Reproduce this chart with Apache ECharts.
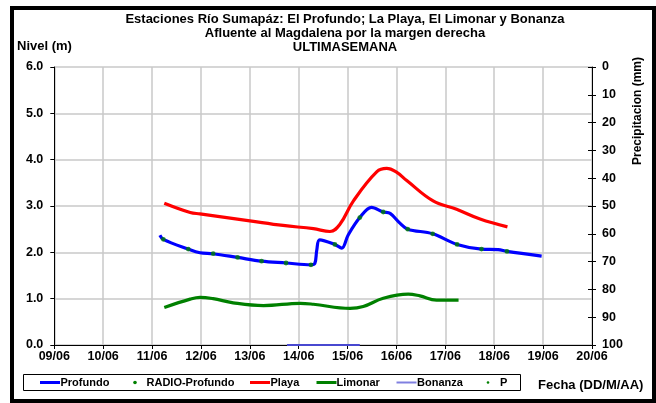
<!DOCTYPE html>
<html>
<head>
<meta charset="utf-8">
<script src="https://cdn.jsdelivr.net/npm/echarts@6/dist/echarts.min.js"></script>
<style>
html,body{margin:0;padding:0;background:#fff;}
#c{width:656px;height:403px;}
</style>
</head>
<body>
<div id="c"></div>
<script>
// x values are days counted from 09/06 00:00
const tickLabels = ['09/06','10/06','11/06','12/06','13/06','14/06','15/06','16/06','17/06','18/06','19/06','20/06'];

const profundo = [
  [2.16,2.37],[2.23,2.28],[2.74,2.07],[2.98,1.99],[3.25,1.97],[3.75,1.89],[4.24,1.81],
  [4.74,1.77],[5.25,1.73],[5.33,1.76],[5.37,2.05],[5.43,2.27],[5.74,2.17],[5.88,2.09],
  [6.01,2.37],[6.25,2.75],[6.49,2.97],[6.73,2.87],[6.87,2.84],[7.07,2.63],[7.23,2.50],
  [7.74,2.40],[8.24,2.17],[8.74,2.07],[9.08,2.06],[9.26,2.02],[9.97,1.92]
];
const radioProfundo = [
  [2.23,2.28],[2.74,2.07],[3.25,1.97],[3.75,1.89],[4.24,1.81],[4.74,1.77],[5.25,1.73],
  [5.74,2.17],[6.25,2.75],[6.73,2.87],[7.23,2.50],[7.74,2.40],[8.24,2.17],[8.74,2.07],[9.26,2.02]
];
const playa = [
  [2.25,3.06],[2.78,2.86],[2.98,2.83],[4.00,2.68],[4.68,2.58],[5.30,2.51],[5.64,2.45],
  [5.84,2.60],[6.12,3.11],[6.60,3.74],[6.80,3.81],[7.00,3.73],[7.21,3.55],[7.75,3.11],
  [8.23,2.93],[8.71,2.72],[9.27,2.55]
];
const limonar = [
  [2.25,0.81],[2.78,0.99],[2.98,1.03],[3.25,1.00],[3.66,0.91],[4.28,0.85],[5.03,0.90],
  [5.30,0.88],[6.05,0.79],[6.32,0.83],[6.73,1.01],[7.24,1.10],[7.48,1.06],[7.82,0.97],[8.27,0.97]
];
const bonanza = [[4.76,0.0],[6.25,0.0]];
const precip = [];

const FF = 'Liberation Sans, Arial';
const AX = {fontFamily:FF, fontWeight:'bold', fontSize:12.5, color:'#000'};
const LG = 'bold 11px ' + FF;

const chart = echarts.init(document.getElementById('c'), null, {renderer:'canvas'});

const legendItems = [];
function legLine(x1, color, w, label, tx) {
  legendItems.push({type:'line', z:60, shape:{x1:x1, y1:382.5, x2:x1+20, y2:382.5}, style:{stroke:color, lineWidth:w}});
  legendItems.push({type:'text', z:60, x:tx, y:382.5, style:{text:label, font:LG, fill:'#000', textVerticalAlign:'middle'}});
}
function legDot(cx, r, label, tx) {
  legendItems.push({type:'circle', z:60, shape:{cx:cx, cy:382.5, r:r}, style:{fill:'#008000'}});
  legendItems.push({type:'text', z:60, x:tx, y:382.5, style:{text:label, font:LG, fill:'#000', textVerticalAlign:'middle'}});
}
legLine(40, '#0000ff', 3, 'Profundo', 60.5);
legDot(135, 1.8, 'RADIO-Profundo', 146.5);
legLine(250, '#ff0000', 3, 'Playa', 270.5);
legLine(316.5, '#008000', 3, 'Limonar', 336.5);
legLine(396.5, '#8080e0', 2, 'Bonanza', 417);
legDot(488, 1.3, 'P', 500);

chart.setOption({
  backgroundColor:'#fff',
  animation:false,
  title:{
    text:'Estaciones Río Sumapáz: El Profundo; La Playa, El Limonar y Bonanza\nAfluente al Magdalena por la margen derecha\nULTIMASEMANA',
    left:340, top:7, textAlign:'center',
    textStyle:{fontFamily:FF, fontWeight:'bold', fontSize:13, color:'#000', lineHeight:14}
  },
  grid:{left:54.3, right:64, top:67, bottom:58},
  xAxis:{
    type:'value', min:0, max:11, interval:1,
    axisLine:{lineStyle:{color:'#000', width:1}},
    axisTick:{length:4, lineStyle:{color:'#000'}},
    axisLabel:Object.assign({}, AX, {margin:5, formatter:(v)=>tickLabels[Math.round(v)]}),
    splitLine:{show:true, lineStyle:{color:'#c8c8c8', width:1.5}}
  },
  yAxis:[
    {
      type:'value', min:0, max:6, interval:1, position:'left',
      axisLine:{show:true, lineStyle:{color:'#000', width:1}},
      axisTick:{show:true, length:4, lineStyle:{color:'#000'}},
      axisLabel:Object.assign({}, AX, {margin:11, formatter:(v)=>v.toFixed(1)}),
      splitLine:{show:true, lineStyle:{color:'#c8c8c8', width:1.5}}
    },
    {
      type:'value', min:0, max:100, interval:10, inverse:true, position:'right',
      axisLine:{show:true, lineStyle:{color:'#000', width:1}},
      axisTick:{show:true, length:4, lineStyle:{color:'#000'}},
      axisLabel:Object.assign({}, AX, {margin:10}),
      splitLine:{show:false}
    },
    {
      type:'value', min:0, max:100, interval:10, inverse:true, position:'right',
      axisLine:{show:false},
      axisTick:{show:true, inside:true, length:4, lineStyle:{color:'#000'}},
      axisLabel:{show:false},
      splitLine:{show:false}
    }
  ],
  series:[
    {name:'Profundo', type:'line', data:profundo, smooth:0.35, showSymbol:false,
     lineStyle:{color:'#0000ff', width:3.2}, itemStyle:{color:'#0000ff'}, z:3},
    {name:'RADIO-Profundo', type:'scatter', data:radioProfundo, symbol:'circle', symbolSize:4.8,
     itemStyle:{color:'#008000'}, z:5},
    {name:'Playa', type:'line', data:playa, smooth:0.4, showSymbol:false,
     lineStyle:{color:'#ff0000', width:3.2}, itemStyle:{color:'#ff0000'}, z:3},
    {name:'Limonar', type:'line', data:limonar, smooth:0.4, showSymbol:false,
     lineStyle:{color:'#008000', width:3.2}, itemStyle:{color:'#008000'}, z:3},
    {name:'Bonanza', type:'line', data:bonanza, showSymbol:false,
     lineStyle:{color:'#4848d0', width:2}, itemStyle:{color:'#4848d0'}, z:4},
    {name:'P', type:'scatter', yAxisIndex:1, data:precip, symbolSize:3, itemStyle:{color:'#008000'}}
  ],
  graphic:[
    {type:'rect', z:100, shape:{x:12, y:8, width:642, height:393}, style:{fill:null, stroke:'#000', lineWidth:4}},
    {type:'text', z:60, x:17, y:46, style:{text:'Nivel (m)', font:'bold 13px ' + FF, fill:'#000', textVerticalAlign:'middle'}},
    {type:'text', z:60, x:638, y:165, rotation:Math.PI/2, style:{text:'Precipitacion (mm)', font:'bold 12px ' + FF, fill:'#000', textAlign:'left', textVerticalAlign:'middle'}},
    {type:'text', z:60, x:538, y:385, style:{text:'Fecha (DD/M/AA)', font:'bold 13px ' + FF, fill:'#000', textVerticalAlign:'middle'}},
    {type:'rect', z:55, shape:{x:23.5, y:374.5, width:497, height:16}, style:{fill:null, stroke:'#000', lineWidth:1}}
  ].concat(legendItems)
});
</script>
</body>
</html>
